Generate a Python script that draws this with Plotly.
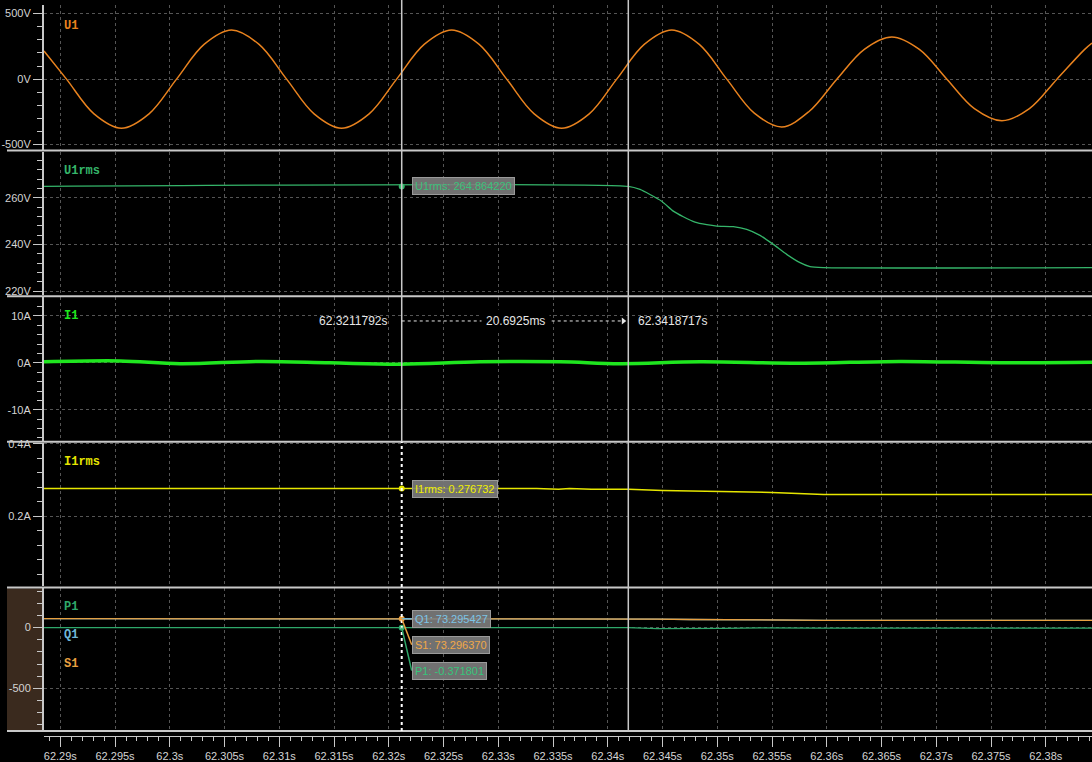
import plotly.graph_objects as go

# ---- data ----
# U1 waveform (s, V)
u1_t = [62.288511, 62.290565, 62.293078, 62.295590, 62.298103, 62.300615, 62.303128, 62.305640,
        62.308153, 62.310665, 62.313178, 62.315690, 62.318203, 62.320715, 62.323228, 62.325740,
        62.328253, 62.330765, 62.333278, 62.335790, 62.338303, 62.340815, 62.343328, 62.345840,
        62.348353, 62.350865, 62.353378, 62.355890, 62.358403, 62.360915, 62.363428, 62.365940,
        62.368453, 62.370965, 62.373478, 62.375990, 62.378503, 62.381015, 62.383528, 62.384219]
u1_v = [215, 0, -265, -375, -265, 0, 265, 375,
        265, 0, -265, -375, -265, 0, 265, 375,
        265, 0, -265, -375, -265, 0, 265, 375,
        265, 0, -260, -365, -245, 0, 228, 322,
        227, 0, -225, -318, -225, 0, 225, 275]

# U1rms (s, V)
u1rms_t = [62.288511, 62.341872, 62.342941, 62.343854, 62.344922, 62.345982, 62.346895, 62.347963,
           62.349032, 62.349945, 62.351461, 62.352685, 62.353900, 62.355114, 62.356338, 62.357553,
           62.358466, 62.359680, 62.384219]
u1rms_v = [264.864, 264.864, 263.55, 261.41, 258.54, 254.26, 251.86, 249.55,
           248.44, 247.84, 247.58, 246.42, 243.85, 240.0, 235.72, 232.16,
           230.45, 230.02, 230.02]

# I1 (s, A)
i1_t = [62.288511, 62.295452, 62.300932, 62.308237, 62.314630, 62.321023, 62.328329,
        62.335635, 62.341114, 62.348420, 62.357553, 62.366685, 62.375817, 62.384219]
i1_v = [0.2, 0.4, -0.2, 0.3, 0.0, -0.3, 0.2, 0.2, -0.2, 0.2, -0.1, 0.3, 0.0, 0.1]

# I1rms (s, A)
i1rms_t = [62.288511, 62.3335, 62.3355, 62.3365, 62.3385, 62.3419, 62.345, 62.350, 62.355,
           62.3597, 62.384219]
i1rms_v = [0.2767, 0.2767, 0.2745, 0.2767, 0.2745, 0.2745, 0.2712, 0.2685, 0.2658, 0.2600, 0.2600]

# P1 / Q1 / S1
pq_t = [62.288511, 62.3419, 62.3445, 62.3475, 62.3505, 62.354, 62.3575, 62.3597, 62.384219]
p1_v = [-0.37, -0.37, -8, -4, -6, -3, -5, -4, -4]
q1_v = [73.3, 73.3, 70, 66.5, 65.5, 63, 60.5, 60, 60]
s1_v = [73.3, 73.3, 70, 66.5, 65.5, 63, 60.5, 60, 60]

# cursors
cur1 = 62.3211792
cur2 = 62.3418717
cur1_label = "62.3211792s"
cur2_label = "62.3418717s"
delta_label = "20.6925ms"

x_ticks = [62.29, 62.295, 62.3, 62.305, 62.31, 62.315, 62.32, 62.325, 62.33, 62.335,
           62.34, 62.345, 62.35, 62.355, 62.36, 62.365, 62.37, 62.375, 62.38]
x_tick_text = ["62.29s", "62.295s", "62.3s", "62.305s", "62.31s", "62.315s", "62.32s", "62.325s",
               "62.33s", "62.335s", "62.34s", "62.345s", "62.35s", "62.355s", "62.36s",
               "62.365s", "62.37s", "62.375s", "62.38s"]

# ---- layout helpers (pixel -> paper) ----
W, H = 1092, 762
L, T, B = 44, 5, 24
PH = H - T - B


def py(px):
    return (H - B - px) / PH


def pxx(px):
    return (px - L) / (W - L)


BG = "#000000"
AX = "#c8c8c8"
GRID = "#555555"
TICKFONT = dict(family="Liberation Sans, Arial", size=11, color="#d4d4d4")
X_RANGE = [62.288511, 62.384219]
PX_PER_S = 10950.0

fig = go.Figure()

fig.add_trace(go.Scatter(x=u1_t, y=u1_v, mode="lines", line=dict(color="#e8821e", width=1.5, shape="spline", smoothing=1.0),
                         xaxis="x", yaxis="y"))
fig.add_trace(go.Scatter(x=u1rms_t, y=u1rms_v, mode="lines", line=dict(color="#35b56a", width=1.3, shape="spline", smoothing=0.6),
                         xaxis="x", yaxis="y2"))
fig.add_trace(go.Scatter(x=i1_t, y=i1_v, mode="lines", line=dict(color="#1fe61f", width=3.5, shape="spline"),
                         xaxis="x", yaxis="y3"))
fig.add_trace(go.Scatter(x=i1rms_t, y=i1rms_v, mode="lines", line=dict(color="#e6e600", width=1.5),
                         xaxis="x", yaxis="y4"))
fig.add_trace(go.Scatter(x=pq_t, y=p1_v, mode="lines", line=dict(color="#2ea86a", width=1.3),
                         xaxis="x", yaxis="y5"))
fig.add_trace(go.Scatter(x=pq_t, y=q1_v, mode="lines", line=dict(color="#6fb6d8", width=1.3),
                         xaxis="x", yaxis="y5"))
fig.add_trace(go.Scatter(x=pq_t, y=s1_v, mode="lines", line=dict(color="#e8a040", width=1.3),
                         xaxis="x", yaxis="y5"))

# cursor dots
fig.add_trace(go.Scatter(x=[cur1], y=[u1rms_v[0]], mode="markers", marker=dict(color="#35b56a", size=6), xaxis="x", yaxis="y2"))
fig.add_trace(go.Scatter(x=[cur1], y=[i1rms_v[0]], mode="markers", marker=dict(color="#e6e600", size=6), xaxis="x", yaxis="y4"))
fig.add_trace(go.Scatter(x=[cur1, cur1], y=[p1_v[0], s1_v[0]], mode="markers",
                         marker=dict(color=["#2ea86a", "#e8a040"], size=6), xaxis="x", yaxis="y5"))
# arrow head of the delta measurement
fig.add_trace(go.Scatter(x=[cur2 - 5 / PX_PER_S], y=[8.9], mode="markers",
                         marker=dict(symbol="triangle-right", color="#e6e6e6", size=6), xaxis="x", yaxis="y3"))

# ---- panels: (top px, bottom px, range, tickvals, ticktext, minor dtick) ----
panels = [
    (5, 150, [-538, 566], [-500, 0, 500], ["-500V", "0V", "500V"], 100),
    (152, 296, [218.2, 279.8], [220, 240, 260], ["220V", "240V", "260V"], 4),
    (298, 442, [-16.6, 13.96], [-10, 0, 10], ["-10A", "0A", "10A"], 2),
    (444, 588, [0.0066, 0.4028], [0.2, 0.4], ["0.2A", "0.4A"], 0.04),
    (590, 733, [-850, 322], [-500, 0], ["-500", "0"], 100),
]

layout = dict(
    width=W, height=H,
    margin=dict(l=L, r=0, t=T, b=B),
    paper_bgcolor=BG, plot_bgcolor=BG,
    showlegend=False,
    xaxis=dict(range=X_RANGE, anchor="free", position=0,
               tickvals=x_ticks, ticktext=x_tick_text, ticks="outside", ticklen=10,
               tickcolor=AX, tickfont=TICKFONT, showline=True, linecolor=AX, linewidth=1,
               showgrid=True, gridcolor=GRID, griddash="3px,3px", gridwidth=1, zeroline=False,
               minor=dict(dtick=0.001, tick0=62.29, ticks="outside", ticklen=4, tickcolor=AX, showgrid=False)),
)

for i, (top, bot, rng, tv, tt, mdt) in enumerate(panels):
    name = "yaxis" if i == 0 else "yaxis%d" % (i + 1)
    layout[name] = dict(
        domain=[py(bot), py(top)], range=rng, anchor="x",
        tickvals=tv, ticktext=tt, ticks="outside", ticklen=9, tickcolor=AX, tickfont=TICKFONT,
        showline=True, linecolor=AX, linewidth=2,
        showgrid=True, gridcolor=GRID, griddash="3px,3px", gridwidth=1, zeroline=False,
        minor=dict(dtick=mdt, tick0=0, ticks="outside", ticklen=5, tickcolor=AX, showgrid=False),
    )

fig.update_layout(**layout)

shapes = []
# brown highlight behind the selected panel's axis
shapes.append(dict(type="rect", xref="paper", yref="paper", x0=pxx(7), x1=pxx(43), y0=py(732), y1=py(590),
                   fillcolor="#3a2a1e", line=dict(width=0), layer="below"))
# panel separators
for ysep in [151, 297, 443, 589, 733]:
    shapes.append(dict(type="line", xref="paper", yref="paper", x0=pxx(7), x1=1, y0=py(ysep), y1=py(ysep),
                       line=dict(color=AX, width=2)))
# cursors
shapes.append(dict(type="line", xref="x", yref="paper", x0=cur1, x1=cur1, y0=py(443), y1=py(0),
                   line=dict(color=AX, width=1.5)))
shapes.append(dict(type="line", xref="x", yref="paper", x0=cur1, x1=cur1, y0=py(733), y1=py(443),
                   line=dict(color="#ffffff", width=2, dash="dot")))
shapes.append(dict(type="line", xref="x", yref="paper", x0=cur2, x1=cur2, y0=py(733), y1=py(0),
                   line=dict(color=AX, width=1.5)))
# delta measurement dashed line
shapes.append(dict(type="line", xref="x", yref="y3", x0=cur1, x1=cur2 - 6 / PX_PER_S, y0=8.9, y1=8.9,
                   line=dict(color="#e6e6e6", width=1, dash="dot")))
# leader lines for P/Q/S labels
off = 10 / PX_PER_S
shapes.append(dict(type="line", xref="x", yref="y5", x0=cur1, x1=cur1 + off, y0=s1_v[0], y1=s1_v[0],
                   line=dict(color="#6fb6d8", width=1.5)))
shapes.append(dict(type="line", xref="x", yref="y5", x0=cur1, x1=cur1 + off, y0=s1_v[0], y1=-141,
                   line=dict(color="#e8a040", width=1.5)))
shapes.append(dict(type="line", xref="x", yref="y5", x0=cur1, x1=cur1 + off, y0=p1_v[0], y1=-354,
                   line=dict(color="#2ea86a", width=1.5)))
fig.update_layout(shapes=shapes)

LABEL_FONT = "Liberation Mono, Courier New, monospace"
ann = []
# channel names
for txt, ypx, col in [("U1", 26, "#e8821e"), ("U1rms", 171, "#35b56a"), ("I1", 317, "#1ee81e"),
                      ("I1rms", 463, "#e6e600"), ("P1", 609, "#2ea86a"), ("Q1", 637, "#6fb6d8"),
                      ("S1", 666, "#e8a040")]:
    ann.append(dict(text="<b>%s</b>" % txt, xref="paper", yref="paper", x=pxx(62), y=py(ypx),
                    xanchor="left", yanchor="middle", showarrow=False,
                    font=dict(family=LABEL_FONT, size=12, color=col)))

# cursor readout boxes
BOX = dict(bgcolor="rgba(125,125,125,0.9)", bordercolor="#9a9a9a", borderwidth=1, borderpad=2)
for txt, yref, yv, col in [("U1rms: 264.864220", "y2", u1rms_v[0], "#3cc07a"),
                           ("I1rms: 0.276732", "y4", i1rms_v[0], "#f0f000"),
                           ("Q1: 73.295427", "y5", 73.3, "#7cc4e6"),
                           ("S1: 73.296370", "y5", -141, "#f0a848"),
                           ("P1: -0.371801", "y5", -354, "#36c47a")]:
    ann.append(dict(text=txt, xref="x", yref=yref, x=cur1, y=yv, xanchor="left", yanchor="middle",
                    xshift=10, showarrow=False, font=dict(family="Liberation Sans, Arial", size=11, color=col), **BOX))

# delta measurement text
MFONT = dict(family="Liberation Sans, Arial", size=12, color="#e6e6e6")
ann.append(dict(text=cur1_label, xref="x", yref="y3", x=cur1, y=8.9, xanchor="right", yanchor="middle",
                xshift=-12, showarrow=False, font=MFONT))
ann.append(dict(text=cur2_label, xref="x", yref="y3", x=cur2, y=8.9, xanchor="left", yanchor="middle",
                xshift=8, showarrow=False, font=MFONT))
ann.append(dict(text=delta_label, xref="x", yref="y3", x=(cur1 + cur2) / 2, y=8.9, xanchor="center",
                yanchor="middle", showarrow=False, bgcolor=BG, borderpad=4, font=MFONT))
fig.update_layout(annotations=ann)

# page body has a default 8px margin; drop it so the figure fills the window
fig.write_html("out.html", config={"displayModeBar": False},
               post_script="document.body.style.margin='0';document.body.style.background='#000';")
